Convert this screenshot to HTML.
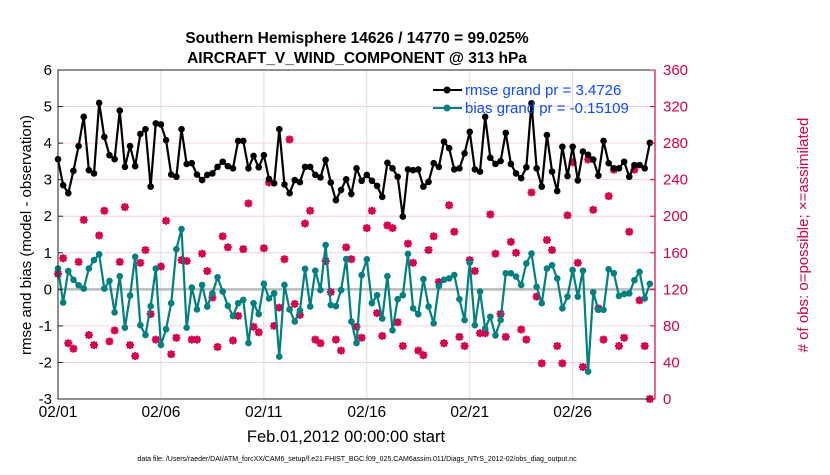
<!DOCTYPE html>
<html><head><meta charset="utf-8"><style>
body{margin:0;background:#fff;font-family:"Liberation Sans",Arial,sans-serif}
svg text{font-family:"Liberation Sans",Arial,sans-serif}
</style></head><body>
<svg id="chart" width="830" height="470" xmlns="http://www.w3.org/2000/svg">
<rect width="830" height="470" fill="#fff"/>
<text x="357" y="43" font-size="15.5" font-weight="bold" text-anchor="middle">Southern Hemisphere 14626 / 14770 = 99.025%</text>
<text x="357" y="63" font-size="15.5" font-weight="bold" text-anchor="middle">AIRCRAFT_V_WIND_COMPONENT @ 313 hPa</text>
<g id="grid"></g>
<g id="marks"></g>
<g id="axes"></g>
<text transform="translate(31,235) rotate(-90)" font-size="15" text-anchor="middle">rmse and bias (model - observation)</text>
<text transform="translate(808,235) rotate(-90)" font-size="15" text-anchor="middle" fill="#d6004f"># of obs: o=possible; ×=assimilated</text>
<text x="346" y="442" font-size="16.5" text-anchor="middle">Feb.01,2012 00:00:00 start</text>
<text x="357" y="461" font-size="7" text-anchor="middle">data file: /Users/raeder/DAI/ATM_forcXX/CAM6_setup/f.e21.FHIST_BGC.f09_025.CAM6assim.011/Diags_NTrS_2012-02/obs_diag_output.nc</text>
<g>
<line x1="433" y1="90" x2="462" y2="90" stroke="#000" stroke-width="2"/><circle cx="447" cy="90" r="3.5" fill="#000"/>
<text x="465" y="95" font-size="15" fill="#0a4cff">rmse grand pr = 3.4726</text>
<line x1="433" y1="108" x2="462" y2="108" stroke="#008080" stroke-width="2"/><circle cx="447" cy="108" r="3.5" fill="#008080"/>
<text x="465" y="113" font-size="15" fill="#0a4cff">bias grand pr = -0.15109</text>
</g>
</svg>
<script>
const rmse=[3.56,2.85,2.63,3.24,3.92,4.72,3.26,3.17,5.10,4.17,3.67,3.56,4.89,3.35,3.92,3.37,4.25,4.38,2.81,4.54,4.51,4.08,3.14,3.08,4.38,3.43,3.45,3.14,2.99,3.13,
3.17,3.35,3.49,3.37,3.31,4.06,4.06,3.31,3.65,3.34,3.67,3.02,2.90,4.38,2.87,2.63,2.99,2.93,3.35,3.35,3.13,3.06,3.54,2.92,2.44,2.72,3.01,2.61,3.31,
2.97,3.13,2.97,2.83,2.53,3.46,3.31,3.08,1.99,3.28,3.26,3.28,2.81,2.94,3.45,3.35,4.04,3.86,3.28,3.31,3.72,4.31,3.28,3.22,4.72,3.60,3.43,3.51,4.28,
3.43,3.17,3.04,3.34,5.09,3.31,2.81,4.22,3.22,2.69,3.90,3.10,3.90,2.98,3.77,3.68,3.55,3.11,4.06,3.45,3.31,3.31,3.49,3.08,3.40,3.40,3.31,4.01];
const bias=[0.57,-0.36,0.50,0.26,0.11,0.02,0.57,0.80,0.96,0.02,0.23,-0.63,0.36,-1.05,-0.17,0.89,-0.98,-1.25,-0.46,0.57,-1.52,-1.09,-0.38,1.10,1.65,-1.05,0.05,-0.55,0.12,-0.47,
-0.11,0.33,-0.06,-0.45,-0.73,-0.38,-0.29,-1.47,-0.38,-0.68,0.15,-0.25,-0.11,-1.84,0.12,-0.55,-0.88,-0.58,0.56,-0.47,0.51,-0.02,1.21,-0.43,-0.46,-0.02,0.83,-0.88,-1.47,
0.39,0.82,-0.38,-0.16,-0.80,0.36,-1.12,-0.27,-0.16,0.97,-0.52,-0.68,0.28,-0.47,-0.93,0.09,0.26,0.30,0.39,-0.27,-0.84,0.73,-0.98,-0.06,-1.07,-0.75,-1.26,-0.84,0.44,
0.44,0.35,0.12,0.71,0.98,0.07,-0.38,0.57,0.66,0.30,-0.52,-0.20,0.53,-0.20,0.51,-2.25,-0.08,-0.56,-0.56,0.55,0.44,-0.18,-0.13,-0.11,0.25,0.48,-0.25,0.15];
const obs=[137,154,61,55,150,196,70,59,179,206,63,75,150,210,59,47,149,163,93,65,145,195,49,67,152,151,65,65,159,140,
111,57,178,166,64,91,164,214,79,73,165,237,80,100,153,284,104,92,192,206,65,61,151,117,65,53,166,153,79,
67,187,206,94,69,190,187,84,58,170,149,53,48,163,178,128,61,212,183,68,58,152,140,72,72,202,159,93,68,
172,160,76,65,226,112,39,174,163,58,39,201,259,149,35,262,207,99,65,222,251,58,67,183,251,108,58,0];
const yTicksLeft=[-3,-2,-1,0,1,2,3,4,5,6];
const yTicksRight=[0,40,80,120,160,200,240,280,320,360];
const xTickDays=[0,5,10,15,20,25];
const xTickLabels=["02/01","02/06","02/11","02/16","02/21","02/26"];
const X0=58,X1=655,Y0=399,Y1=70;
const dayPx=(X1-X0)/29;
const xs=i=>X0+i*dayPx/4;
const xd=d=>X0+d*dayPx;
const yl=v=>Y0-(v+3)/9*(Y0-Y1);
const yr=v=>Y0-v/360*(Y0-Y1);
const NS="http://www.w3.org/2000/svg";
function mk(tag,attrs,parent){const e=document.createElementNS(NS,tag);for(const k in attrs)e.setAttribute(k,attrs[k]);parent.appendChild(e);return e;}
const grid=document.getElementById('grid'),marks=document.getElementById('marks'),axes=document.getElementById('axes');
yTicksRight.forEach(v=>{const l=mk('line',{x1:X0,x2:X1,y1:yr(v),y2:yr(v),stroke:'#f5d0e0','stroke-width':1},grid);

});
xTickDays.forEach(d=>{const l=mk('line',{x1:xd(d),x2:xd(d),y1:Y1,y2:Y0,stroke:'#dddddd','stroke-width':1},grid);

});
const z=mk('line',{x1:X0,x2:X1,y1:yl(0),y2:yl(0),stroke:'#bbbbbb','stroke-width':2.5},grid);


obs.forEach((v,i)=>{const g=mk('g',{},marks);


const cx=xs(i),cy=yr(v),r=4,c='#d6004f';
mk('circle',{cx:cx,cy:cy,r:2.6,fill:'none',stroke:c,'stroke-width':1.5},g);
mk('line',{x1:cx-r,x2:cx+r,y1:cy,y2:cy,stroke:c,'stroke-width':2},g);
mk('line',{x1:cx,x2:cx,y1:cy-r,y2:cy+r,stroke:c,'stroke-width':2},g);
mk('line',{x1:cx-3,x2:cx+3,y1:cy-3,y2:cy+3,stroke:c,'stroke-width':2},g);
mk('line',{x1:cx-3,x2:cx+3,y1:cy+3,y2:cy-3,stroke:c,'stroke-width':2},g);});
function series(arr,color,name){
const p=mk('polyline',{points:arr.map((v,i)=>xs(i)+','+yl(v)).join(' '),fill:'none',stroke:color,'stroke-width':2.2},marks);


arr.forEach((v,i)=>{const c=mk('circle',{cx:xs(i),cy:yl(v),r:3.3,fill:color},marks);

});}
series(bias,'#008080','bias');
series(rmse,'#000000','rmse');
const f=mk('rect',{x:X0,y:Y1,width:X1-X0,height:Y0-Y1,fill:'none',stroke:'#222','stroke-width':1},axes);


const ra=mk('line',{x1:X1,x2:X1,y1:Y1,y2:Y0,stroke:'#d6004f','stroke-width':1.2},axes);


yTicksLeft.forEach(v=>{const t=mk('text',{x:X0-6,y:yl(v)+5,'font-size':15,'text-anchor':'end'},axes);t.textContent=v;


mk('line',{x1:X0,x2:X0+5,y1:yl(v),y2:yl(v),stroke:'#222'},axes);});
yTicksRight.forEach(v=>{const t=mk('text',{x:X1+8,y:yr(v)+5,'font-size':15,fill:'#d6004f'},axes);t.textContent=v;


mk('line',{x1:X1-5,x2:X1,y1:yr(v),y2:yr(v),stroke:'#d6004f'},axes);});
xTickDays.forEach((d,i)=>{const t=mk('text',{x:xd(d),y:Y0+18,'font-size':15.5,'text-anchor':'middle'},axes);t.textContent=xTickLabels[i];

});
</script>
</body></html>
